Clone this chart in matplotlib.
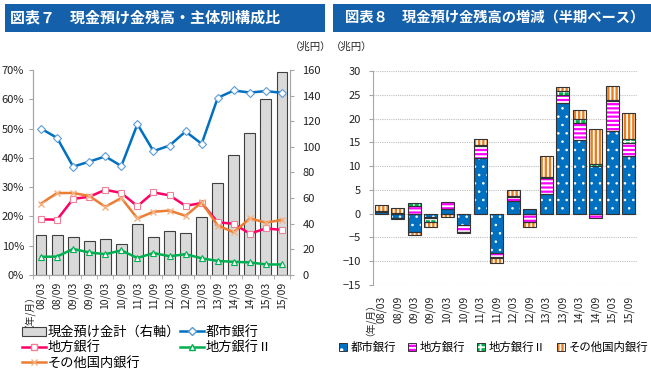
import matplotlib
matplotlib.use('Agg')
import matplotlib.pyplot as plt
from matplotlib.patches import Patch, Rectangle
from matplotlib.lines import Line2D
import numpy as np

plt.rcParams['font.family'] = ['Noto Sans CJK JP', 'DejaVu Sans']
plt.rcParams['hatch.linewidth'] = 1.3

# data
periods = ['08/03', '08/09', '09/03', '09/09', '10/03', '10/09', '11/03', '11/09',
           '12/03', '12/09', '13/03', '13/09', '14/03', '14/09', '15/03', '15/09']

# chart 7: total (兆円, right axis) and share by bank type (%)
total = [31.5, 31.5, 29.5, 26.5, 28, 24.5, 40, 30, 34.5, 33, 45, 71.5, 93.5, 110.5, 137, 158.5]
share_city = [50, 46.8, 37, 38.7, 40.5, 37.2, 51.5, 42.3, 44.2, 49, 44.8, 60.5, 63, 62.3, 62.8, 62.2]
share_regional = [19, 18.9, 26, 26.7, 29.1, 28, 23.5, 28.2, 27.2, 23.6, 24.6, 18, 17.5, 14.1, 15.9, 15.4]
share_regional2 = [6.2, 6.3, 8.9, 7.7, 7.1, 8.4, 5.8, 7.5, 6.4, 7.1, 5.7, 4.8, 4.5, 4.3, 3.6, 3.6]
share_other = [24.4, 28, 28, 27, 23.3, 26.3, 19.3, 21.6, 22, 20.2, 24.8, 16.9, 14.6, 19.3, 17.9, 18.8]

# chart 8: half-year change (兆円)
chg_city = [0.3, -1.0, -3.8, -0.8, 1.0, -2.4, 11.7, -8.3, 2.6, 1.0, 4.1, 23.2, 15.4, 10.0, 17.4, 12.2]
chg_regional = [0.1, 0.1, 1.6, -0.1, 1.4, -1.4, 2.5, -0.9, 0.9, -1.7, 3.3, 1.8, 3.7, -1.0, 6.2, 2.6]
chg_regional2 = [0.2, -0.1, 0.7, -0.8, -0.1, -0.1, 0.3, -0.1, 0.2, -0.1, 0.3, 0.8, 0.8, 0.5, 0.4, 1.0]
chg_other = [1.3, 1.1, -0.7, -1.2, -0.6, -0.1, 1.3, -1.1, 1.3, -1.0, 4.5, 0.9, 2.0, 7.3, 2.8, 5.3]

W, H = 651, 369
fig = plt.figure(figsize=(W / 100, H / 100), dpi=100)

txt = '#222222'
spine_c = '#A6A6A6'
hdr_c = '#1560AA'

# header boxes
fig.patches.append(Rectangle((5 / W, 1 - 32 / H), 320 / W, 28 / H, transform=fig.transFigure,
                             facecolor=hdr_c, edgecolor='none'))
fig.patches.append(Rectangle((333 / W, 1 - 32 / H), 318 / W, 28 / H, transform=fig.transFigure,
                             facecolor=hdr_c, edgecolor='none'))
fig.text(10 / W, 1 - 18 / H, '図表７　現金預け金残高・主体別構成比', color='white',
         fontsize=10.8, fontweight='bold', va='center', ha='left')
fig.text(345 / W, 1 - 18 / H, '図表８　現金預け金残高の増減（半期ベース）', color='white',
         fontsize=10.3, fontweight='bold', va='center', ha='left')

x = np.arange(len(periods))

# ---- chart 7 ----
ax = fig.add_axes([33 / W, 1 - 275 / H, 257 / W, 205 / H])
axr = ax.twinx()
ax.set_zorder(axr.get_zorder() + 1)
ax.patch.set_visible(False)

axr.bar(x, total, 0.68, color='#D9D9D9', edgecolor='#404040', linewidth=0.8)
axr.set_ylim(0, 160)
axr.set_yticks(range(0, 161, 20))

ax.plot(x, share_city, color='#0070C0', lw=1.8, marker='D', ms=4, mfc='white', mec='#5B9BD5', mew=0.8)
ax.plot(x, share_regional, color='#FF0066', lw=1.8, marker='s', ms=5, mfc='white', mec='#F08098', mew=0.8)
ax.plot(x, share_regional2, color='#00B050', lw=1.8, marker='^', ms=5, mfc='white', mec='#00B050', mew=0.8)
ax.plot(x, share_other, color='#ED7D31', lw=1.8, marker='x', ms=5, mec='#F4B183', mew=1.0)
ax.set_ylim(0, 70)
ax.set_yticks(range(0, 71, 10))
ax.set_yticklabels([f'{v}%' for v in range(0, 71, 10)])
ax.set_xlim(-0.5, len(periods) - 0.5)
ax.set_xticks(x)
ax.set_xticklabels(periods, rotation=90, fontsize=7.5, color=txt)
ax.set_xticks(np.arange(-0.5, len(periods), 1), minor=True)
ax.tick_params(axis='x', which='major', length=0, pad=5)
ax.tick_params(axis='x', which='minor', length=3, color=spine_c)

for a in (ax, axr):
    for s in a.spines.values():
        s.set_color(spine_c)
    a.spines['top'].set_visible(False)
    a.tick_params(axis='y', labelsize=8, labelcolor=txt, color=spine_c, length=3)
axr.tick_params(axis='y', pad=6)

fig.text(290 / W, 1 - 47 / H, '（兆円）', fontsize=7.5, color=txt, va='center', ha='left')
fig.text(24 / W, 1 - 285 / H, '（年/月）', fontsize=7, color=txt, rotation=90, va='top', ha='center')

h7 = [Patch(facecolor='#D9D9D9', edgecolor='#404040', linewidth=0.8),
      Line2D([], [], color='#FF0066', lw=1.8, marker='s', ms=5, mfc='white', mec='#F08098'),
      Line2D([], [], color='#ED7D31', lw=1.8, marker='x', ms=5, mec='#F4B183'),
      Line2D([], [], color='#0070C0', lw=1.8, marker='D', ms=4, mfc='white', mec='#5B9BD5'),
      Line2D([], [], color='#00B050', lw=1.8, marker='^', ms=5, mfc='white', mec='#00B050')]
l7 = ['現金預け金計（右軸）', '地方銀行', 'その他国内銀行', '都市銀行', '地方銀行Ⅱ']
fig.legend(h7, l7, ncol=2, loc='upper left', bbox_to_anchor=(22 / W, 1 - 326 / H),
           frameon=False, fontsize=9.5, handlelength=1.8, handletextpad=0.15,
           columnspacing=0.0, labelspacing=0.18, borderpad=0, borderaxespad=0)

# ---- chart 8 ----
ax2 = fig.add_axes([373 / W, 1 - 285 / H, 264 / W, 214 / H])
series = [(chg_city, '#0070C0', '..', 0.6, '都市銀行'),
          (chg_regional, '#FF00FF', '----', 1.4, '地方銀行'),
          (chg_regional2, '#00B050', '+++', 1.0, '地方銀行Ⅱ'),
          (chg_other, '#E87E20', '||||', 1.3, 'その他国内銀行')]
pos_base = np.zeros(len(periods))
neg_base = np.zeros(len(periods))
h8 = []
for vals, col, hatch, hlw, lab in series:
    v = np.array(vals)
    bottom = np.where(v >= 0, pos_base, neg_base)
    with plt.rc_context({'hatch.linewidth': hlw}):
        ax2.bar(x, v, 0.76, bottom=bottom, color=col, edgecolor='white', hatch=hatch, linewidth=0, zorder=2)
        fill_h = Patch(facecolor=col, edgecolor='white', linewidth=0, hatch=hatch)
    ax2.bar(x, v, 0.76, bottom=bottom, fill=False, edgecolor='#333333', linewidth=0.8, zorder=3)
    edge_h = Patch(fill=False, edgecolor='#333333', linewidth=0.7)
    h8.append((fill_h, edge_h))
    pos_base += np.where(v > 0, v, 0)
    neg_base += np.where(v < 0, v, 0)

ax2.set_ylim(-15, 30)
ax2.set_yticks(range(-15, 31, 5))
ax2.set_xlim(-0.5, len(periods) - 0.5)
ax2.set_xticks(x)
ax2.set_xticklabels(periods, rotation=90, fontsize=7.5, color=txt)
ax2.tick_params(axis='x', length=0, pad=8)
ax2.tick_params(axis='y', labelsize=8, labelcolor=txt, color=spine_c, length=3, pad=6)
ax2.grid(axis='y', color='#BFBFBF', linestyle=(0, (1, 1)), linewidth=0.8, zorder=0)
ax2.set_axisbelow(True)
for s in ['top', 'right', 'bottom']:
    ax2.spines[s].set_visible(False)
ax2.spines['left'].set_color(spine_c)

fig.text(331 / W, 1 - 47 / H, '（兆円）', fontsize=7.5, color=txt, va='center', ha='left')
fig.text(365 / W, 1 - 293 / H, '（年/月）', fontsize=7, color=txt, rotation=90, va='top', ha='center')

fig.legend(h8, [s[4] for s in series], ncol=4, loc='center left', bbox_to_anchor=(339 / W, 1 - 347 / H),
           frameon=False, fontsize=8.2, handlelength=0.7, handleheight=0.7, handletextpad=0.35,
           columnspacing=1.0, borderpad=0, borderaxespad=0)

fig.savefig('out.png', dpi=100)
